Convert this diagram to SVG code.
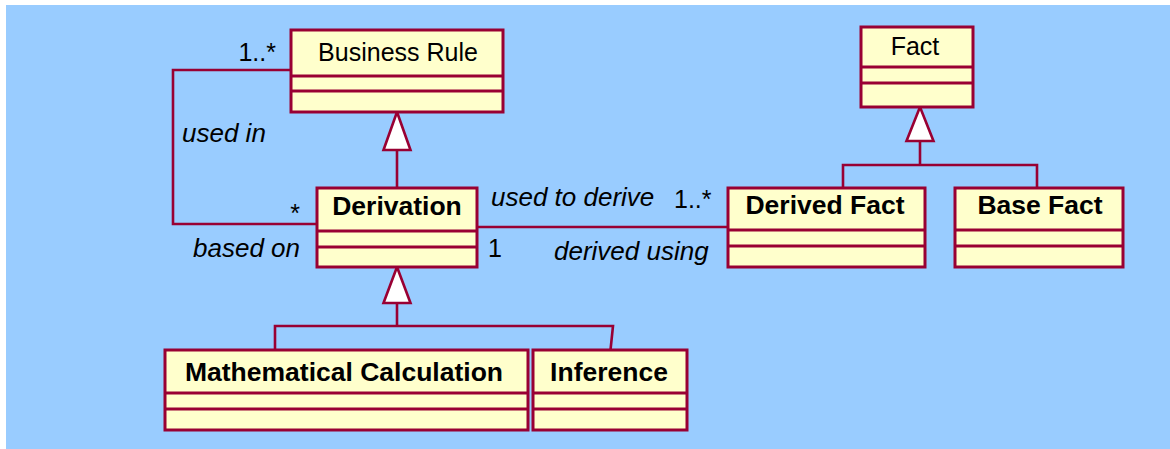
<svg xmlns="http://www.w3.org/2000/svg" width="1170" height="449" viewBox="0 0 1170 449">
  <style>
    .box { fill: #FFFFCC; stroke: #990033; stroke-width: 3; }
    .div { stroke: #990033; stroke-width: 3; }
    .line { fill: none; stroke: #990033; stroke-width: 2.6; }
    .tri { fill: #FFFFFF; stroke: #990033; stroke-width: 2.6; stroke-linejoin: miter; }
    text { font-family: "Liberation Sans", Arial, sans-serif; fill: #000000; }
    .name { font-size: 25px; text-anchor: middle; }
    .bold { font-size: 26.5px; font-weight: bold; text-anchor: middle; }
    .role { font-size: 26px; font-style: italic; }
    .mult { font-size: 25px; }
  </style>

  <!-- canvas -->
  <rect x="6" y="5" width="1164" height="444" fill="#99CCFF"/>

  <!-- associations and generalizations -->
  <g id="connectors">
    <!-- Business Rule (1..*) used in / based on (*) Derivation -->
    <polyline class="line" points="291,70 173,70 173,224 317,224"/>
    <!-- Derivation (1) used to derive / derived using (1..*) Derived Fact -->
    <line class="line" x1="477" y1="227" x2="728" y2="227"/>
    <!-- Derivation is a Business Rule -->
    <line class="line" x1="397" y1="150" x2="397" y2="188"/>
    <polygon class="tri" points="397,112 383.5,150 410.5,150"/>
    <!-- Derived Fact / Base Fact are Facts -->
    <polyline class="line" points="843,188 843,165 1037,165 1037,188"/>
    <line class="line" x1="920" y1="141" x2="920" y2="165"/>
    <polygon class="tri" points="920,107 906.5,141 933.5,141"/>
    <!-- Mathematical Calculation / Inference are Derivations -->
    <polyline class="line" points="275,350 275,326 613,326 610.5,350"/>
    <line class="line" x1="397" y1="303" x2="397" y2="326"/>
    <polygon class="tri" points="397,267 383.5,303 410.5,303"/>
  </g>

  <!-- association labels -->
  <g id="labels">
    <text class="mult" x="276" y="61" text-anchor="end">1..*</text>
    <text class="role" x="182" y="142">used in</text>
    <text class="mult" x="300" y="222" text-anchor="end">*</text>
    <text class="role" x="300" y="257" text-anchor="end">based on</text>
    <text class="role" x="491" y="206">used to derive</text>
    <text class="mult" x="674" y="208">1..*</text>
    <text class="mult" x="488" y="257">1</text>
    <text class="role" x="554" y="260">derived using</text>
  </g>

  <g id="business-rule">
    <rect class="box" x="291" y="30" width="212" height="82"/>
    <line class="div" x1="291" y1="76" x2="503" y2="76"/>
    <line class="div" x1="291" y1="91" x2="503" y2="91"/>
    <text class="name" x="398" y="61">Business Rule</text>
  </g>

  <g id="fact">
    <rect class="box" x="861" y="27" width="112" height="80"/>
    <line class="div" x1="861" y1="67" x2="973" y2="67"/>
    <line class="div" x1="861" y1="83" x2="973" y2="83"/>
    <text class="name" x="915" y="55">Fact</text>
  </g>

  <g id="derivation">
    <rect class="box" x="317" y="188" width="160" height="79"/>
    <line class="div" x1="317" y1="231" x2="477" y2="231"/>
    <line class="div" x1="317" y1="247" x2="477" y2="247"/>
    <text class="bold" x="397" y="215">Derivation</text>
  </g>

  <g id="derived-fact">
    <rect class="box" x="728" y="188" width="197" height="79"/>
    <line class="div" x1="728" y1="230" x2="925" y2="230"/>
    <line class="div" x1="728" y1="246" x2="925" y2="246"/>
    <text class="bold" x="825" y="214">Derived Fact</text>
  </g>

  <g id="base-fact">
    <rect class="box" x="955" y="188" width="168" height="79"/>
    <line class="div" x1="955" y1="230" x2="1123" y2="230"/>
    <line class="div" x1="955" y1="246" x2="1123" y2="246"/>
    <text class="bold" x="1040" y="214">Base Fact</text>
  </g>

  <g id="mathematical-calculation">
    <rect class="box" x="165" y="350" width="363" height="80"/>
    <line class="div" x1="165" y1="393" x2="528" y2="393"/>
    <line class="div" x1="165" y1="409" x2="528" y2="409"/>
    <text class="bold" x="344" y="381">Mathematical Calculation</text>
  </g>

  <g id="inference">
    <rect class="box" x="533" y="350" width="154" height="80"/>
    <line class="div" x1="533" y1="393" x2="687" y2="393"/>
    <line class="div" x1="533" y1="409" x2="687" y2="409"/>
    <text class="bold" x="609" y="381">Inference</text>
  </g>
</svg>
